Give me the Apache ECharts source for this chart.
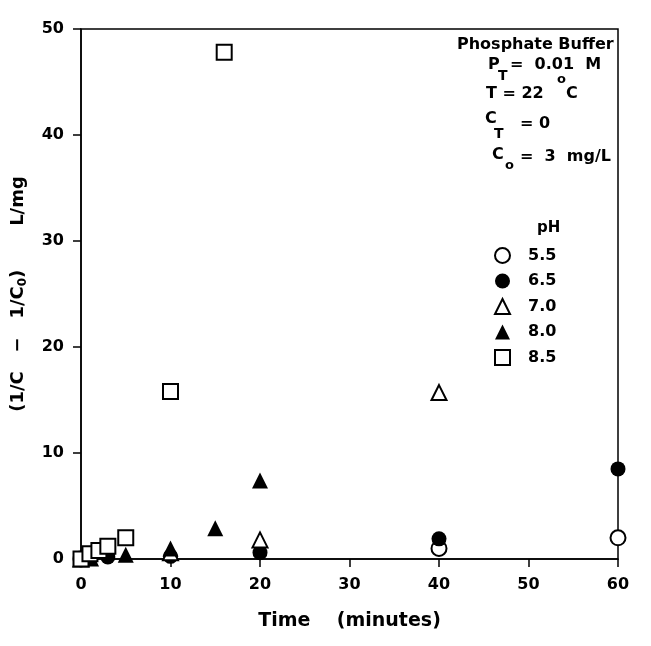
<!DOCTYPE html>
<html>
<head>
<meta charset="utf-8">
<script src="https://cdn.jsdelivr.net/npm/echarts@6/dist/echarts.min.js"></script>
<style>
  html, body { margin: 0; padding: 0; background: #fff; }
  #chart { width: 651px; height: 646px; }
</style>
</head>
<body>
<div id="chart"></div>
<script>
// reading of the scanned figure: [time (min), 1/C - 1/C0 (L/mg)]
const xTicks = [0, 10, 20, 30, 40, 50, 60]
const yTicks = [0, 10, 20, 30, 40, 50]

const pH55 = [[0, 0], [40, 1.0], [60, 2.0]]
const pH65 = [[0, 0], [1, 0.05], [3, 0.2], [10, 0.25], [20, 0.6], [40, 1.9], [60, 8.5]]
const pH70 = [[0, 0], [1, 0.1], [10, 0.6], [20, 1.8], [40, 15.7]]
const pH80 = [[0, 0], [1, 0.1], [5, 0.4], [10, 1.0], [15, 2.9], [20, 7.4]]
const pH85 = [[0, 0], [1, 0.5], [2, 0.8], [3, 1.2], [5, 2.0], [10, 15.8], [16, 47.8]]

const FONT = 'DejaVu Sans'
const ink = '#000'

const open = { color: '#fff', borderColor: ink, borderWidth: 2, opacity: 1 }
const filled = { color: ink, borderWidth: 0, opacity: 1 }

const mkSeries = (name, data, symbol, size, style) => ({
  name, type: 'scatter', data, symbol, symbolSize: size,
  itemStyle: style, emphasis: { disabled: true }
})

const txt = (left, top, text, size = 16) => ({
  type: 'text', left, top,
  style: { text, font: `bold ${size}px "${FONT}"`, fill: ink }
})

const chart = echarts.init(document.getElementById('chart'))
chart.setOption({
  animation: false,
  textStyle: { fontFamily: FONT },
  grid: { left: 81, right: 33, top: 29, bottom: 87, show: true, borderColor: ink, borderWidth: 1.5 },
  xAxis: {
    type: 'value', min: xTicks[0], max: xTicks[xTicks.length - 1], interval: 10,
    name: 'Time    (minutes)', nameLocation: 'middle', nameGap: 53,
    nameTextStyle: { fontSize: 19, fontWeight: 'bold', color: ink },
    axisLine: { lineStyle: { color: ink, width: 1.5 } },
    axisTick: { inside: false, length: 8, lineStyle: { color: ink, width: 1.5 } },
    axisLabel: { margin: 18, fontSize: 16, fontWeight: 'bold', color: ink },
    splitLine: { show: false }
  },
  yAxis: {
    type: 'value', min: yTicks[0], max: yTicks[yTicks.length - 1], interval: 10,
    name: '{a|(1/C   −   1/C}{s|0}{a|)       L/mg}', nameLocation: 'middle', nameGap: 52,
    nameTextStyle: {
      color: ink,
      rich: {
        a: { fontSize: 18, fontWeight: 'bold', color: ink, fontFamily: FONT },
        s: { fontSize: 12, fontWeight: 'bold', color: ink, fontFamily: FONT, padding: [9, 0, 0, 0] }
      }
    },
    axisLine: { lineStyle: { color: ink, width: 1.5 } },
    axisTick: { inside: false, length: 8, lineStyle: { color: ink, width: 1.5 } },
    axisLabel: { margin: 17, fontSize: 16, fontWeight: 'bold', color: ink },
    splitLine: { show: false }
  },
  legend: {
    orient: 'vertical', left: 494, top: 247, padding: 0,
    itemWidth: 15, itemHeight: 15, itemGap: 9,
    textStyle: { fontSize: 16, fontWeight: 'bold', color: ink, padding: [0, 0, 0, 13] },
    data: ['5.5', '6.5', '7.0', '8.0', '8.5'],
    selectedMode: false
  },
  graphic: [
    txt(457, 37, 'Phosphate Buffer'),
    txt(488, 57, 'P'),
    txt(498, 69, 'T', 14),
    txt(510, 57, '=  0.01  M'),
    txt(486, 86, 'T = 22'),
    txt(557, 73, 'o', 13),
    txt(566, 86, 'C'),
    txt(485, 111, 'C'),
    txt(494, 127, 'T', 14),
    txt(520, 116, '= 0'),
    txt(492, 147, 'C'),
    txt(505, 159, 'o', 13),
    txt(520, 149, '=  3  mg/L'),
    txt(537, 221, 'pH', 15)
  ],
  series: [
    mkSeries('5.5', pH55, 'circle', 15, open),
    mkSeries('6.5', pH65, 'circle', 15, filled),
    mkSeries('7.0', pH70, 'triangle', 15, open),
    mkSeries('8.0', pH80, 'triangle', 16, filled),
    mkSeries('8.5', pH85, 'rect', 15, open)
  ]
})
</script>
</body>
</html>
